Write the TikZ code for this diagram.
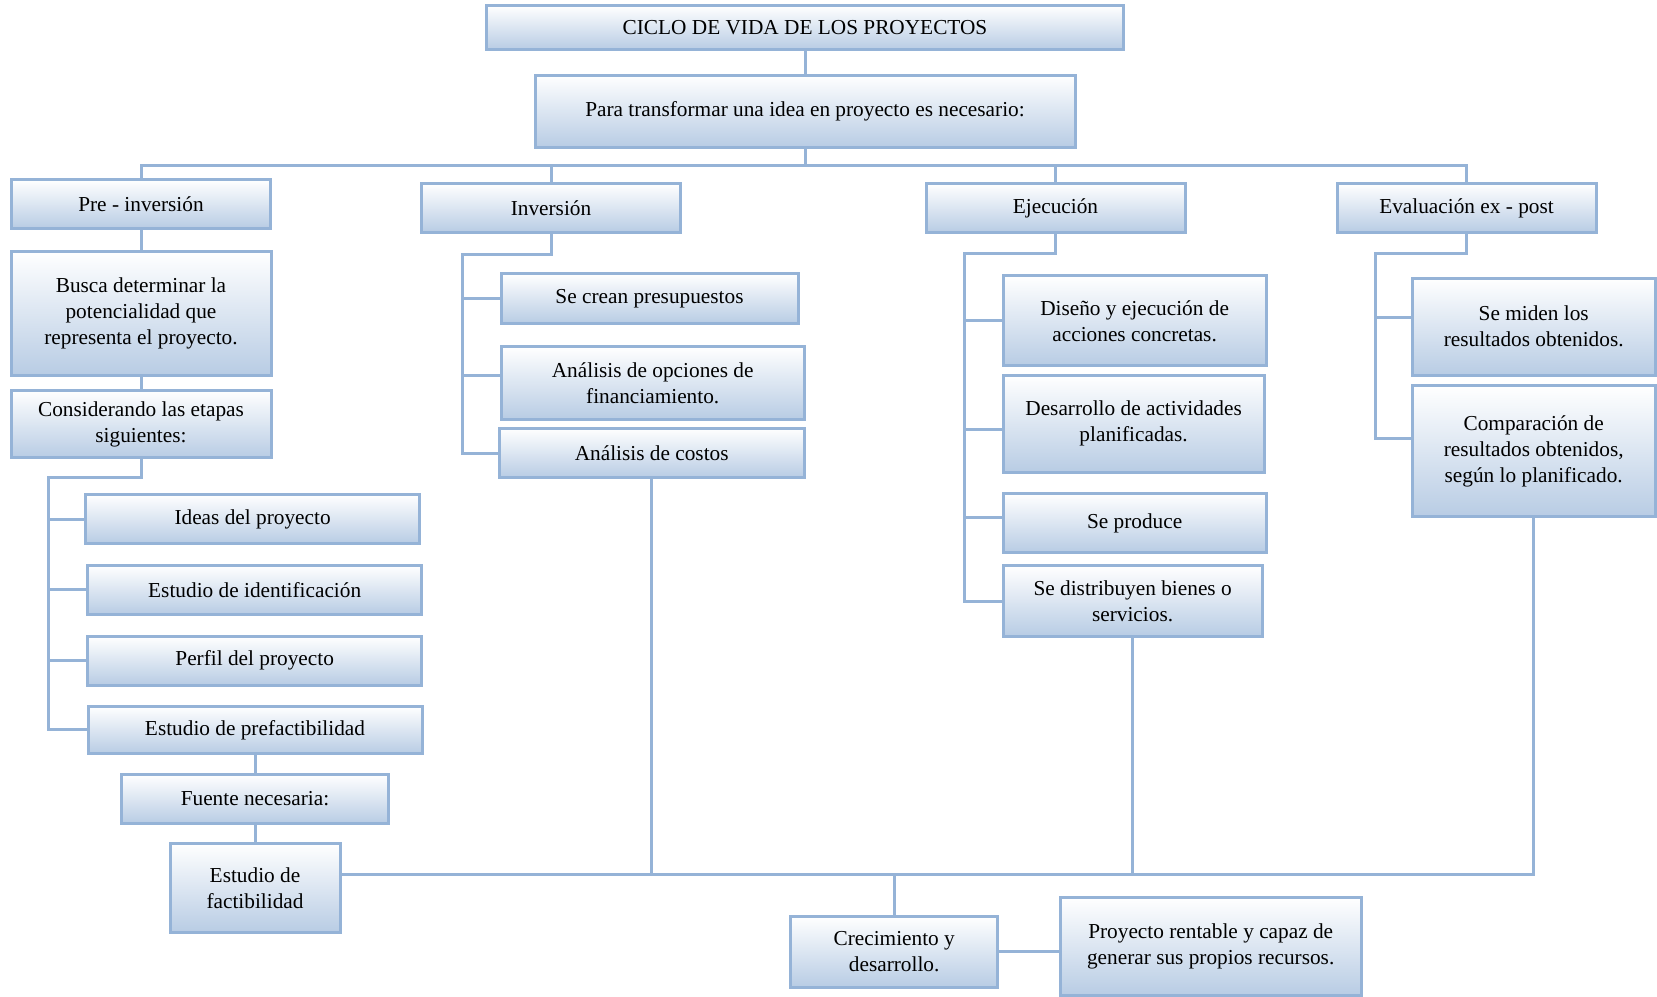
\documentclass[tikz,border=0pt]{standalone}
\usepackage{fontspec}
\setmainfont{Liberation Serif}
\definecolor{lineblue}{RGB}{149,179,215}
\definecolor{boxblue}{RGB}{184,204,228}
\tikzset{
  box/.style={draw=lineblue, line width=3pt, top color=white, bottom color=boxblue,
    inner sep=0pt, align=center, font=\fontsize{21.3}{26}\selectfont},
  conn/.style={draw=lineblue, line width=3pt}
}
\begin{document}
\begin{tikzpicture}[x=1pt,y=-1pt]
\useasboundingbox (0,0) rectangle (1657,996);
% top
\node[box, minimum width=637, minimum height=44] (ciclo) at (805,27.5) {CICLO DE VIDA DE LOS PROYECTOS};
\node[box, minimum width=540, minimum height=72] (para) at (805,111) {Para transformar una idea en proyecto es necesario:};
% phases
\node[box, minimum width=259, minimum height=48.6] (pre) at (141,204) {Pre - inversión};
\node[box, minimum width=259, minimum height=48.6] (inv) at (551,208) {Inversión};
\node[box, minimum width=259, minimum height=48.6] (eje) at (1055.5,208) {Ejecución};
\node[box, minimum width=259, minimum height=48.6] (eva) at (1466.5,208) {Evaluación ex - post};
% pre column
\node[box, minimum width=260, minimum height=123.6] (busca) at (141,313.4) {Busca determinar la\\potencialidad que\\representa el proyecto.};
\node[box, minimum width=260, minimum height=67.7] (cons) at (141,424) {Considerando las etapas\\siguientes:};
\node[box, minimum width=334, minimum height=48.6] (ideas) at (252.6,519) {Ideas del proyecto};
\node[box, minimum width=334, minimum height=48.6] (ident) at (254.7,589.8) {Estudio de identificación};
\node[box, minimum width=334, minimum height=48.6] (perfil) at (254.7,660.7) {Perfil del proyecto};
\node[box, minimum width=334, minimum height=47.6] (prefac) at (255,729.8) {Estudio de prefactibilidad};
\node[box, minimum width=267.4, minimum height=48.6] (fuente) at (255,799) {Fuente necesaria:};
\node[box, minimum width=170, minimum height=88.8] (fact) at (255,888) {Estudio de\\factibilidad};
% inversion column
\node[box, minimum width=297, minimum height=49.6] (crean) at (649.5,298.6) {Se crean presupuestos};
\node[box, minimum width=303, minimum height=73] (opc) at (652.7,383) {Análisis de opciones de\\financiamiento.};
\node[box, minimum width=305, minimum height=49.7] (costos) at (651.7,453) {Análisis de costos};
% ejecucion column
\node[box, minimum width=263, minimum height=89.8] (dis) at (1134.6,320.8) {Diseño y ejecución de\\acciones concretas.};
\node[box, minimum width=261, minimum height=97] (des) at (1133.6,423.8) {Desarrollo de actividades\\planificadas.};
\node[box, minimum width=263, minimum height=59] (prod) at (1134.6,523) {Se produce};
\node[box, minimum width=259, minimum height=70.8] (dist) at (1132.6,601) {Se distribuyen bienes o\\servicios.};
% evaluacion column
\node[box, minimum width=243, minimum height=97] (mid) at (1533.7,326.7) {Se miden los\\resultados obtenidos.};
\node[box, minimum width=243, minimum height=131] (comp) at (1533.7,451.3) {Comparación de\\resultados obtenidos,\\según lo planificado.};
% bottom
\node[box, minimum width=207, minimum height=70.8] (crec) at (894.2,951.8) {Crecimiento y\\desarrollo.};
\node[box, minimum width=301, minimum height=98] (proy) at (1210.7,946.5) {Proyecto rentable y capaz de\\generar sus propios recursos.};
% connectors top
\coordinate (bus) at (805,165);
\draw[conn] (ciclo.south) -- (para.north);
\draw[conn] (para.south) -- (para.south |- bus);
\draw[conn] (pre.north) |- (eva.north |- bus) -- (eva.north);
\draw[conn] (inv.north) -- (inv.north |- bus);
\draw[conn] (eje.north) -- (eje.north |- bus);
% pre column connectors
\draw[conn] (pre.south) -- (busca.north);
\draw[conn] (busca.south) -- (cons.north);
\coordinate (pspine) at (48.6,477.8);
\draw[conn] (cons.south) |- (pspine) -- (pspine |- prefac.west) -- (prefac.west);
\draw[conn] (pspine |- ideas.west) -- (ideas.west);
\draw[conn] (pspine |- ident.west) -- (ident.west);
\draw[conn] (pspine |- perfil.west) -- (perfil.west);
\draw[conn] (prefac.south) -- (fuente.north);
\draw[conn] (fuente.south) -- (fact.north);
% inversion connectors
\coordinate (ispine) at (462,254.7);
\draw[conn] (inv.south) |- (ispine) -- (ispine |- costos.west) -- (costos.west);
\draw[conn] (ispine |- crean.west) -- (crean.west);
\draw[conn] (ispine |- 0,375) -- (opc.west |- 0,375);
% ejecucion connectors
\coordinate (espine) at (964,253.7);
\draw[conn] (eje.south) |- (espine) -- (espine |- dist.west) -- (dist.west);
\draw[conn] (espine |- dis.west) -- (dis.west);
\draw[conn] (espine |- 0,429) -- (des.west |- 0,429);
\draw[conn] (espine |- 0,517) -- (prod.west |- 0,517);
% evaluacion connectors
\coordinate (vspine) at (1375,253.7);
\draw[conn] (eva.south) |- (vspine) -- (vspine |- 0,438.7) -- (comp.west |- 0,438.7);
\draw[conn] (vspine |- 0,317) -- (mid.west |- 0,317);
% bottom bus
\coordinate (bbus) at (0,874);
\draw[conn] (fact.east |- bbus) -- (comp.south |- bbus) -- (comp.south);
\draw[conn] (costos.south) -- (costos.south |- bbus);
\draw[conn] (dist.south) -- (dist.south |- bbus);
\draw[conn] (crec.north) -- (crec.north |- bbus);
\draw[conn] (crec.east) -- (crec.east -| proy.west);
\end{tikzpicture}
\end{document}
